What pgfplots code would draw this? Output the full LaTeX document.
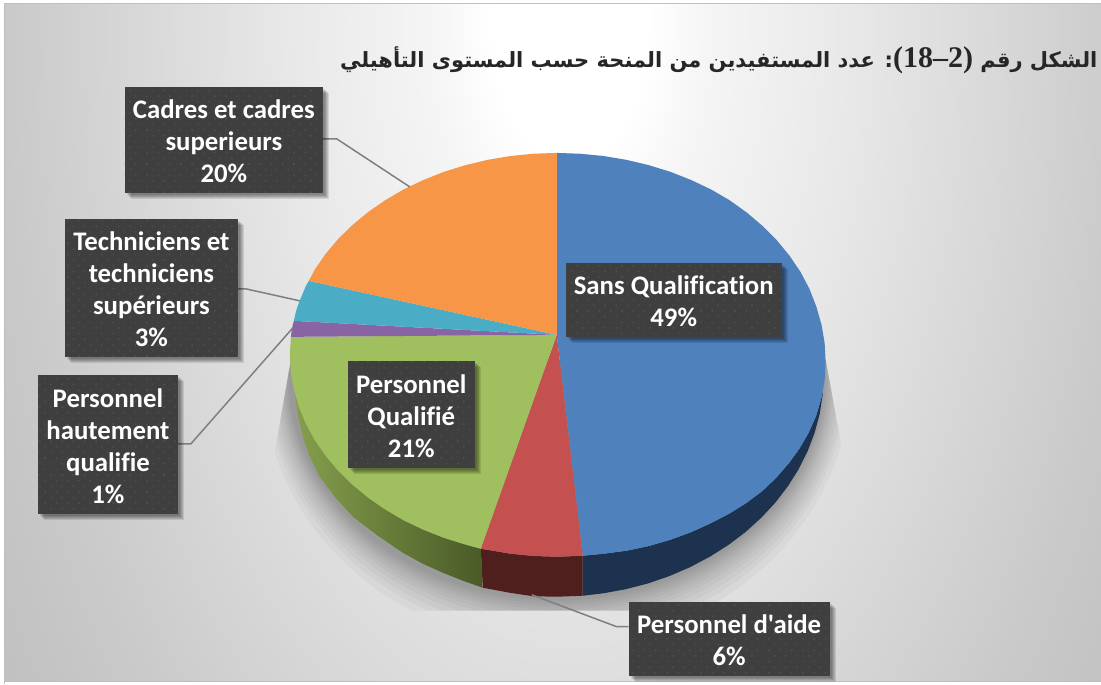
\documentclass[border=0pt]{standalone}
\usepackage{fontspec}
\usepackage{pgfplots}
\pgfplotsset{compat=1.18}
\usetikzlibrary{patterns.meta}
\TeXXeTstate=1
\newfontfamily\lab{Carlito}[Ligatures=NoCommon]
\newfontfamily\arabicfont[Script=Arabic]{DejaVu Sans}
\newfontfamily\serifnum{Liberation Serif}

\definecolor{cblue}{HTML}{4F81BD}
\definecolor{cred}{HTML}{C4504F}
\definecolor{cgreen}{HTML}{A0BF5E}
\definecolor{cpurple}{HTML}{8864A4}
\definecolor{cteal}{HTML}{4BACC6}
\definecolor{corange}{HTML}{F79646}
\definecolor{dblue}{HTML}{1C324E}
\definecolor{dred}{HTML}{4F1F1E}
\definecolor{dgreenL}{HTML}{859F4C}
\definecolor{dgreenR}{HTML}{4A5A28}
\definecolor{boxdark}{HTML}{3F3F3F}
\definecolor{boxdot}{HTML}{4D4D4D}
\definecolor{leader}{HTML}{7F7F7F}

\pgfdeclareradialshading{bgshade}{\pgfpoint{0bp}{0bp}}{%
  rgb(0bp)=(1,1,1); rgb(2.5bp)=(1,1,1); rgb(4.5bp)=(.96,.96,.96);
  rgb(9bp)=(.91,.91,.91); rgb(18bp)=(.79,.79,.79); rgb(25bp)=(.72,.72,.72); rgb(50bp)=(.72,.72,.72)}

% label box: x1 y1 x2 y2 text
\newcommand\lblbox[5]{%
  \fill[black,opacity=.10] (axis cs:#1+2,#2+2) rectangle (axis cs:#3+2,#4+2);
  \fill[black,opacity=.10] (axis cs:#1+3,#2+3) rectangle (axis cs:#3+3,#4+3);
  \fill[black,opacity=.10] (axis cs:#1+4,#2+4) rectangle (axis cs:#3+4,#4+4);
  \fill[black,opacity=.10] (axis cs:#1+5,#2+5) rectangle (axis cs:#3+5,#4+5);
  \fill[black,opacity=.10] (axis cs:#1+6,#2+6) rectangle (axis cs:#3+6,#4+6);
  \path[fill=boxdark,postaction={pattern={Dots[radius=1.1pt,distance=8pt,angle=45]},pattern color=boxdot}]
    (axis cs:#1,#2) rectangle node[text=white,align=center,inner sep=0pt,yshift=-1.5pt,
      font=\lab\fontsize{26.8}{32}\selectfont\bfseries] {#5} (axis cs:#3,#4);
}

\begin{document}
\begin{tikzpicture}
\begin{axis}[
  hide axis, x=1pt, y=1pt, y dir=reverse,
  xmin=0, xmax=1101, ymin=0, ymax=684,
  clip=false, axis line style={draw=none},
]
% page and background
\fill[white] (axis cs:0,0) rectangle (axis cs:1101,684);
\begin{scope}
  \clip (axis cs:5,4) rectangle (axis cs:1101,682);
  \shade[shading=bgshade] (axis cs:-214,-1380) rectangle (axis cs:1354,1420);
\end{scope}
\draw[black!25,line width=1pt] (axis cs:5,684) -- (axis cs:5,4) -- (axis cs:1101,4);
\draw[black!25,line width=1pt] (axis cs:5,682) -- (axis cs:1101,682);

% soft shadow under the pie
\begin{scope}
  \clip (axis cs:291,360) -- (axis cs:270,480) -- (axis cs:270,611) -- (axis cs:848,611)
        -- (axis cs:848,480) -- (axis cs:826,360) -- cycle;
  \fill[black,opacity=.03] (axis cs:557,376) ellipse [x radius=294, y radius=270];
  \fill[black,opacity=.03] (axis cs:557,376) ellipse [x radius=290, y radius=262];
  \fill[black,opacity=.03] (axis cs:557,376) ellipse [x radius=287, y radius=256];
  \fill[black,opacity=.03] (axis cs:557,376) ellipse [x radius=284, y radius=250];
  \fill[black,opacity=.03] (axis cs:557,376) ellipse [x radius=281, y radius=245];
  \fill[black,opacity=.03] (axis cs:557,376) ellipse [x radius=278, y radius=241];
  \fill[black,opacity=.03] (axis cs:557,376) ellipse [x radius=276, y radius=237];
  \fill[black,opacity=.03] (axis cs:557,376) ellipse [x radius=274, y radius=234];
  \fill[black,opacity=.03] (axis cs:557,376) ellipse [x radius=272, y radius=231];
  \fill[black,opacity=.03] (axis cs:557,376) ellipse [x radius=270, y radius=228];
  \fill[black,opacity=.03] (axis cs:557,376) ellipse [x radius=268, y radius=225];
\end{scope}

% side walls
\addplot[draw=none,fill=dblue] coordinates {
  (823,392)(821.8,398)(816.5,416)(809,433)(800,448.5)(789.5,463)(777,477.5)(763,491)
  (747,503)(730,513.7)(711,523.5)(691.5,532.4)(670.7,540)(649,546.3)(626.6,551)(603.7,554)(583,556)
  (583,596)(603.4,593.6)(626.1,589.5)(648.3,583.7)(669.8,576.3)(690.5,567.4)(710.1,557)
  (728.6,545.3)(745.8,532.3)(761.5,518.1)(775.7,502.8)(788.2,486.5)(799,469.4)(807.9,451.6)
  (814.9,433.2)(820,414.4)(823,395)
} -- cycle;
\addplot[draw=none,fill=dred] coordinates {
  (583,556)(557,557)(533.7,556.2)(510.6,553.9)(487.9,550.1)(481,549)
  (483,588)(510,593)(533,596.5)(557,597)(583,596)
} -- cycle;
\addplot[draw=none,left color=dgreenL,right color=dgreenR] coordinates {
  (295,393)(299.1,407.3)(306.1,424.1)(315,440.4)(325.8,456)(338.3,470.9)(352.5,484.8)
  (368.2,497.8)(385.4,509.7)(403.8,520.5)(423.5,529.9)(444.2,538.1)(465.7,544.8)(481,549)
  (483,588)(463,581)(443,573)(423,564)(403,553)(378,536)(353,517)(335,497)(320,477)
  (310,457)(303,437)(298,415)
} -- cycle;

% top wedges
\addplot[draw=none,fill=cblue] coordinates {
  (557,335)(557,153)(580.5,153.8)(603.7,156.1)(626.6,159.9)(649,165.2)(670.7,171.9)(691.5,180.1)
  (711.3,189.5)(729.9,200.3)(747.2,212.7)(763.1,226.2)(777.4,240.6)(790,256)(800.8,272)
  (809.8,289)(816.8,307)(821.9,325)(825,343)(826,362)(825,380.5)(821.8,398)(816.5,416)(809,433)
  (800,448.5)(789.5,463)(777,477.5)(763,491)(747,503)(730,513.7)(711,523.5)(691.5,532.4)
  (670.7,540)(649,546.3)(626.6,551)(603.7,554)(583,556)
} -- cycle;
\addplot[draw=none,fill=cred] coordinates {
  (557,335)(583,556)(557,557)(533.7,556.2)(510.6,553.9)(487.9,550.1)(481,549)
} -- cycle;
\addplot[draw=none,fill=cgreen] coordinates {
  (557,335)(481,549)(465.7,544.8)(444.2,538.1)(423.5,529.9)(403.8,520.5)(385.4,509.7)(368.2,497.8)
  (352.5,484.8)(338.3,470.9)(325.8,456)(315,440.4)(306.1,424.1)(299.1,407.3)(294.1,390.1)
  (291,372.6)(290,355)(291,337)
} -- cycle;
\addplot[draw=none,fill=cpurple] coordinates {
  (557,335)(291,337)(292,329)(294,321)
} -- cycle;
\addplot[draw=none,fill=cteal] coordinates {
  (557,335)(294,321)(296,312)(299.1,302.7)(306.1,285.9)(309,281)
} -- cycle;
\addplot[draw=none,fill=corange] coordinates {
  (557,335)(309,281)(315,269.6)(325.8,254)(338.3,239.1)(352.5,225.2)(368.2,212.2)(385.4,200.3)
  (403.8,189.5)(423.5,180.1)(444.2,171.9)(465.7,165.2)(487.9,159.9)(510.6,156.1)(533.7,153.8)(557,153)
} -- cycle;

% leader lines
\addplot[leader,line width=1.5pt] coordinates {(323,139)(337,139)(410,187)};
\addplot[leader,line width=1.5pt] coordinates {(238,289)(246,289)(300,301)};
\addplot[leader,line width=1.5pt] coordinates {(178,444)(191,444)(293,328)};
\addplot[leader,line width=1.5pt] coordinates {(532,595)(617,627)(629,627)};

% labels
\lblbox{125}{87}{323}{193}{Cadres et cadres\\superieurs\\20\%}
\lblbox{65}{219}{238}{357}{Techniciens et\\techniciens\\supérieurs\\3\%}
\lblbox{38}{375}{178}{514}{Personnel\\hautement\\qualifie\\1\%}
\lblbox{348}{361}{475}{468}{Personnel\\Qualifié\\21\%}
\lblbox{566}{263}{782}{337}{Sans Qualification\\49\%}
\lblbox{629}{602}{830}{676}{Personnel d'aide\\6\%}

% title
\node[anchor=east,inner sep=0pt,text=black!85,font=\fontsize{21}{26}\selectfont\bfseries]
  at (axis cs:1098,60) {\arabicfont\beginR الشكل رقم \beginL{\serifnum\fontsize{30}{26}\selectfont (18–2)}\endL: عدد المستفيدين من المنحة حسب المستوى التأهيلي\endR};
\end{axis}
\end{tikzpicture}
\end{document}
